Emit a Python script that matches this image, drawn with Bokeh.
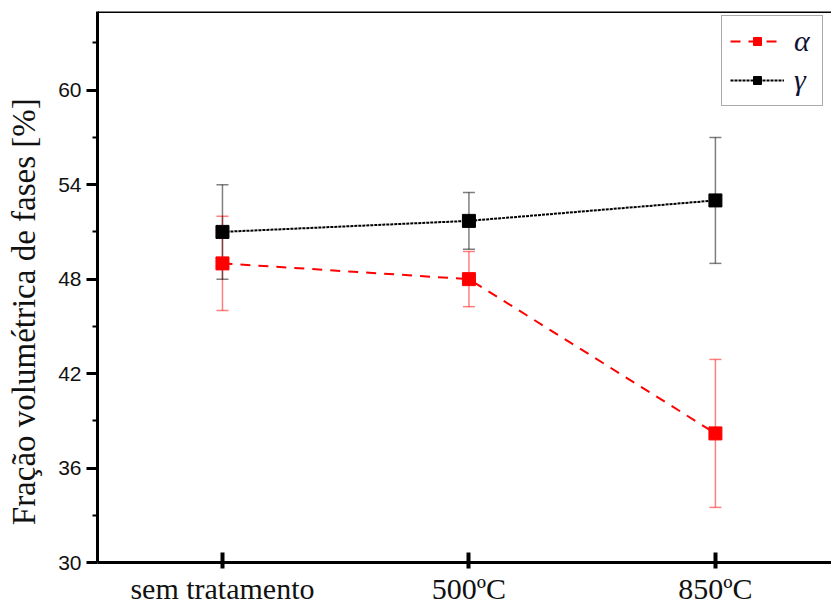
from bokeh.plotting import figure
from bokeh.models import Range1d, FixedTicker, Whisker, ColumnDataSource, Span, TeeHead
from bokeh.embed import file_html
from bokeh.resources import INLINE

categories = ["sem tratamento", "500ºC", "850ºC"]
x_pos = [1, 2, 3]
alpha_vals = [49.0, 48.0, 38.2]
alpha_err = [3.0, 1.75, 4.7]
gamma_vals = [51.0, 51.7, 53.0]
gamma_err = [3.0, 1.8, 4.0]
y_ticks = [30, 36, 42, 48, 54, 60]
y_minor = [33, 39, 45, 51, 57, 63]
y_title = "Fração volumétrica de fases [%]"

p = figure(width=831, height=607, x_range=Range1d(0.493, 3.471), y_range=Range1d(30, 65),
           output_backend="svg", toolbar_location=None,
           min_border_left=97, min_border_right=0, min_border_top=11, min_border_bottom=44)
p.outline_line_color = None
p.xgrid.visible = False
p.ygrid.visible = False

# axes styling
ya = p.yaxis[0]
ya.ticker = FixedTicker(ticks=y_ticks, minor_ticks=y_minor)
ya.major_tick_out = 11
ya.major_tick_in = 0
ya.minor_tick_out = 5
ya.minor_tick_in = 0
ya.axis_line_width = 3
ya.major_tick_line_width = 3
ya.minor_tick_line_width = 2
ya.major_label_text_font = "Liberation Sans"
ya.major_label_text_font_size = "21px"
ya.major_label_text_color = "#111111"
ya.major_label_standoff = 5
# trailing no-break spaces shift the centred title slightly downward, as in the original
ya.axis_label = y_title + "\u00a0" * 6
ya.axis_label_text_font = "Liberation Serif"
ya.axis_label_text_font_size = "33px"
ya.axis_label_text_font_style = "normal"
ya.axis_label_text_color = "#111111"
ya.axis_label_standoff = 13

xa = p.xaxis[0]
xa.ticker = FixedTicker(ticks=x_pos, minor_ticks=[])
xa.major_label_overrides = {x: c for x, c in zip(x_pos, categories)}
xa.major_tick_in = 10
xa.major_tick_out = 6
xa.major_tick_line_width = 4
xa.axis_line_width = 3
xa.major_label_text_font = "Liberation Serif"
xa.major_label_text_font_size = "30px"
xa.major_label_text_color = "#111111"
xa.major_label_standoff = 3

p.add_layout(Span(location=65, dimension="width", line_color="black", line_width=3))

# error bars
for vals, errs, col in [(alpha_vals, alpha_err, "red"), (gamma_vals, gamma_err, "black")]:
    src = ColumnDataSource(dict(x=x_pos,
                                upper=[v + e for v, e in zip(vals, errs)],
                                lower=[v - e for v, e in zip(vals, errs)]))
    w = Whisker(source=src, base="x", upper="upper", lower="lower",
                line_color=col, line_alpha=0.5, line_width=1.5,
                upper_head=TeeHead(size=12, line_color=col, line_alpha=0.5, line_width=1.5),
                lower_head=TeeHead(size=12, line_color=col, line_alpha=0.5, line_width=1.5))
    p.add_layout(w)

p.line(x_pos, alpha_vals, line_color="red", line_dash="10 8", line_width=2, legend_label="α")
p.scatter(x_pos, alpha_vals, marker="square", size=13, color="red", legend_label="α")
p.line(x_pos, gamma_vals, line_color="black", line_dash="3 1", line_width=2, legend_label="γ")
p.scatter(x_pos, gamma_vals, marker="square", size=13, color="black", legend_label="γ")

lg = p.legend[0]
lg.location = (624, 456)
lg.margin = 0
lg.border_line_color = "#555555"
lg.border_line_width = 1.5
lg.label_text_font = "Liberation Serif"
lg.label_text_font_size = "30px"
lg.label_text_font_style = "italic"
lg.label_text_color = "#111133"
lg.glyph_width = 54
lg.glyph_height = 20
lg.label_standoff = 10
lg.padding = 8
lg.spacing = 5
lg.background_fill_alpha = 1

open("out.html", "w").write(file_html(p, INLINE))
